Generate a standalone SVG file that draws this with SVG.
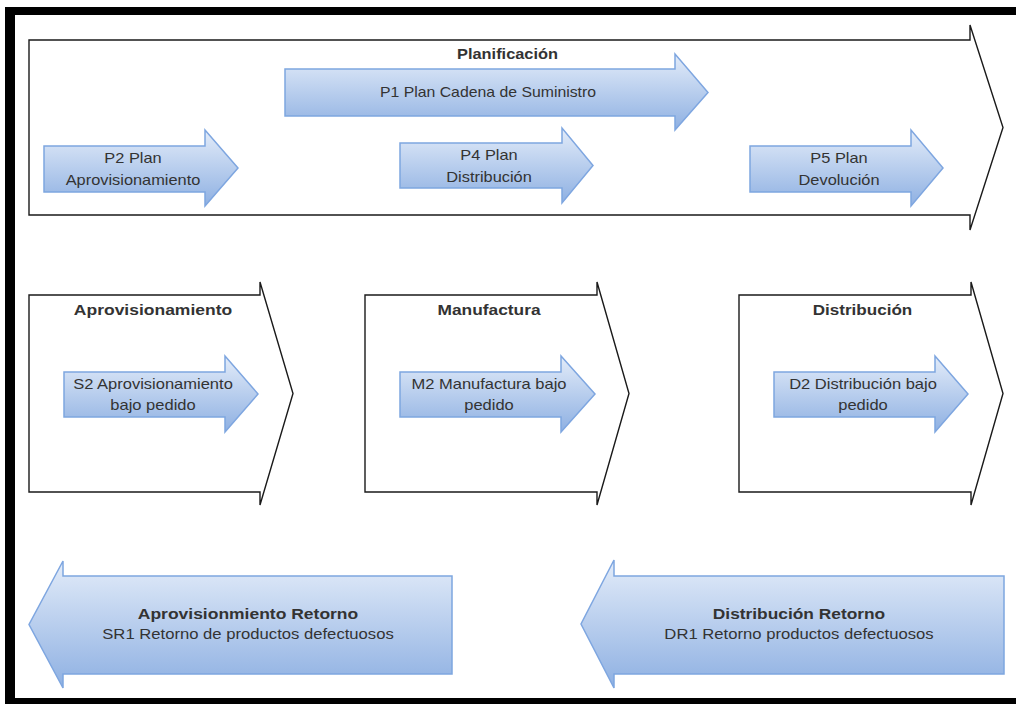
<svg xmlns="http://www.w3.org/2000/svg" width="1016" height="704" viewBox="0 0 1016 704">
  <defs>
    <linearGradient id="blueFill" x1="0" y1="0" x2="0" y2="1">
      <stop offset="0" stop-color="#e3ecf9"/>
      <stop offset="1" stop-color="#8eb0e2"/>
    </linearGradient>
    <style>
      .stage { fill: #ffffff; stroke: #1a1a1a; stroke-width: 1.4; stroke-linejoin: miter; }
      .step { fill: url(#blueFill); stroke: #7ea6e0; stroke-width: 1.5; stroke-linejoin: miter; }
      .t { font-family: "Liberation Sans", Arial, sans-serif; font-size: 14px; fill: #333333; text-anchor: middle; }
      .b { font-weight: bold; }
    </style>
  </defs>

  <rect x="0" y="0" width="1016" height="704" fill="#ffffff"/>

  <!-- outer frame -->
  <g id="frame" fill="#000000">
    <rect x="5" y="7" width="1011" height="8"/>
    <rect x="5" y="7" width="10" height="697"/>
    <rect x="5" y="698" width="1011" height="6"/>
  </g>

  <!-- planning stage -->
  <g id="planificacion">
    <path class="stage" d="M29,40 H970 V25 L1003,127.5 L970,230 V215 H29 Z"/>
    <text class="t b" transform="matrix(1.17 0 0 1 507.5 59)">Planificación</text>
  </g>

  <g id="p1">
    <path class="step" d="M285,69 H675 V54 L708,92.5 L675,130 V116 H285 Z"/>
    <text class="t" transform="matrix(1.13 0 0 1 488 97)">P1 Plan Cadena de Suministro</text>
  </g>

  <g id="p2">
    <path class="step" d="M44,146 H205 V130 L238,168 L205,206 V192 H44 Z"/>
    <text class="t" transform="matrix(1.17 0 0 1 133 163)">P2 Plan</text>
    <text class="t" transform="matrix(1.17 0 0 1 133 185)">Aprovisionamiento</text>
  </g>

  <g id="p4">
    <path class="step" d="M400,143 H562 V128 L593,165.5 L562,203 V188 H400 Z"/>
    <text class="t" transform="matrix(1.17 0 0 1 489 160)">P4 Plan</text>
    <text class="t" transform="matrix(1.17 0 0 1 489 182)">Distribución</text>
  </g>

  <g id="p5">
    <path class="step" d="M750,146 H911 V130 L943,168 L911,206 V192 H750 Z"/>
    <text class="t" transform="matrix(1.17 0 0 1 839 163)">P5 Plan</text>
    <text class="t" transform="matrix(1.17 0 0 1 839 185)">Devolución</text>
  </g>

  <!-- execution stages -->
  <g id="aprovisionamiento">
    <path class="stage" d="M29,295 H260 V282 L293,393.5 L260,505 V492 H29 Z"/>
    <text class="t b" transform="matrix(1.25 0 0 1 153 315)">Aprovisionamiento</text>
  </g>

  <g id="s2">
    <path class="step" d="M64,372 H225 V356 L258,394 L225,432 V417 H64 Z"/>
    <text class="t" transform="matrix(1.18 0 0 1 153 389)">S2 Aprovisionamiento</text>
    <text class="t" transform="matrix(1.18 0 0 1 153 410)">bajo pedido</text>
  </g>

  <g id="manufactura">
    <path class="stage" d="M365,295 H597 V282 L629,393.5 L597,505 V492 H365 Z"/>
    <text class="t b" transform="matrix(1.24 0 0 1 489 315)">Manufactura</text>
  </g>

  <g id="m2">
    <path class="step" d="M400,372 H561 V356 L595,394 L561,432 V417 H400 Z"/>
    <text class="t" transform="matrix(1.18 0 0 1 489 389)">M2 Manufactura bajo</text>
    <text class="t" transform="matrix(1.18 0 0 1 489 410)">pedido</text>
  </g>

  <g id="distribucion">
    <path class="stage" d="M739,295 H971 V282 L1003,393.5 L971,505 V492 H739 Z"/>
    <text class="t b" transform="matrix(1.22 0 0 1 862.5 315)">Distribución</text>
  </g>

  <g id="d2">
    <path class="step" d="M774,372 H935 V356 L968,394 L935,432 V417 H774 Z"/>
    <text class="t" transform="matrix(1.18 0 0 1 863 389)">D2 Distribución bajo</text>
    <text class="t" transform="matrix(1.18 0 0 1 863 410)">pedido</text>
  </g>

  <!-- return flows -->
  <g id="sr1">
    <path class="step" d="M452,576 H63 V561 L29,624.5 L63,688 V674 H452 Z"/>
    <text class="t b" transform="matrix(1.25 0 0 1 248 619)">Aprovisionmiento Retorno</text>
    <text class="t" transform="matrix(1.19 0 0 1 248 639)">SR1 Retorno de productos defectuosos</text>
  </g>

  <g id="dr1">
    <path class="step" d="M1004,576 H614 V560 L581,624 L614,688 V674 H1004 Z"/>
    <text class="t b" transform="matrix(1.24 0 0 1 799 619)">Distribución Retorno</text>
    <text class="t" transform="matrix(1.19 0 0 1 799 639)">DR1 Retorno productos defectuosos</text>
  </g>
</svg>
